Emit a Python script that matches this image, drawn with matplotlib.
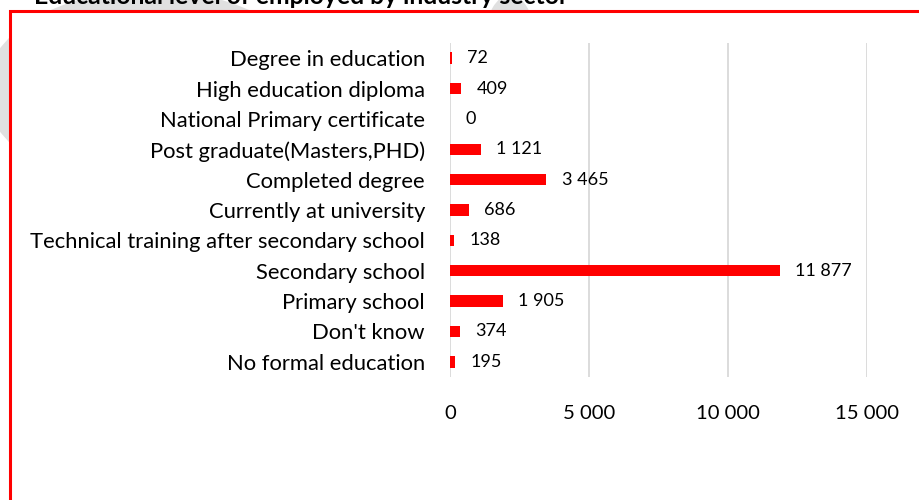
import matplotlib.pyplot as plt
from matplotlib.patches import Rectangle, Ellipse
from matplotlib.ticker import FuncFormatter

# --- data ---
categories = [
    "Degree in education",
    "High education diploma",
    "National Primary certificate",
    "Post graduate(Masters,PHD)",
    "Completed degree",
    "Currently at university",
    "Technical training after secondary school",
    "Secondary school",
    "Primary school",
    "Don't know",
    "No formal education",
]
values = [72, 409, 0, 1121, 3465, 686, 138, 11877, 1905, 374, 195]
x_ticks = [0, 5000, 10000, 15000]
title = "Educational level of employed by industry sector"

RED = "#ff0000"
FONT = "Lato"


def space_thousands(v, pos=None):
    return f"{int(v):,}".replace(",", " ")


W, H = 919, 500
fig = plt.figure(figsize=(W / 100, H / 100), dpi=100)

# light gray watermark bits peeking out around the frame
fig.patches.append(Ellipse((150 / W, 1 - 90 / H), 330 / W, 200 / H,
                           transform=fig.transFigure, facecolor="#e0e0e0",
                           edgecolor="none", zorder=0))
fig.patches.append(Ellipse((510 / W, 1 - 40 / H), 50 / W, 90 / H,
                           transform=fig.transFigure, facecolor="#e0e0e0",
                           edgecolor="none", zorder=0))

# red frame with white inside
fig.patches.append(Rectangle((10 / W, -0.05), 1.0, 1 - 11 / H + 0.05,
                             transform=fig.transFigure, facecolor="white",
                             edgecolor=RED, linewidth=2.2, zorder=1))

fig.text(301 / W, 1 - 4 / H, title, ha="center", va="baseline",
         fontsize=17.8, fontweight="bold", family=FONT, zorder=3)

ax = fig.add_axes([450 / W, 1 - 377 / H, 417 / W, 334 / H], zorder=2)
ax.patch.set_alpha(0)

ypos = list(range(len(categories)))
ax.barh(ypos, values, height=0.38, color=RED, zorder=3)
ax.set_ylim(len(categories) - 0.5, -0.5)
ax.set_xlim(0, 15000)
ax.set_xticks(x_ticks)
ax.xaxis.set_major_formatter(FuncFormatter(space_thousands))
ax.set_yticks(ypos)
ax.set_yticklabels(categories)

for y, v in zip(ypos, values):
    ax.annotate(space_thousands(v), (v, y), xytext=(11, 0),
                textcoords="offset points", va="center", ha="left",
                fontsize=13, family=FONT)

ax.grid(axis="x", color="#d9d9d9", linewidth=1.3, zorder=0)
for s in ax.spines.values():
    s.set_visible(False)
ax.tick_params(axis="both", length=0)
ax.tick_params(axis="y", pad=18, labelsize=15.8)
ax.tick_params(axis="x", pad=20, labelsize=14.6)
for lab in ax.get_xticklabels() + ax.get_yticklabels():
    lab.set_family(FONT)

fig.savefig("out.png", dpi=100)
